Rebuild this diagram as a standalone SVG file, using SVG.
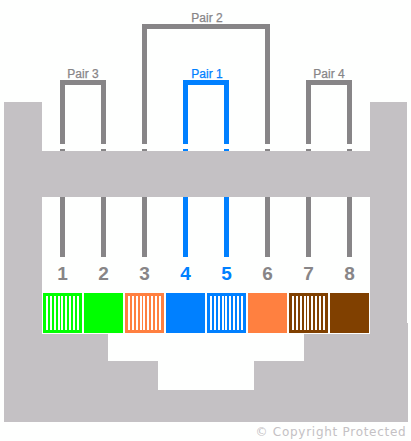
<svg xmlns="http://www.w3.org/2000/svg" width="411" height="441" viewBox="0 0 411 441">
<style>
.w{fill:none;stroke-width:5}
.g{stroke:#878587}.b{stroke:#0080ff}
text{font-family:"Liberation Sans",Arial,sans-serif;text-anchor:middle}
.lp{font-size:12px;fill:#878587;stroke:#878587;stroke-width:.25}
.lb{fill:#0080ff;stroke:#0080ff}
.n{font-size:19px;font-weight:700;fill:#878587}
.nb{fill:#0080ff}
.s{stroke:#fff;stroke-width:2;fill:none}
</style>
<defs>
<path id="stripes" class="s" d="M4 3V37M8 3V37M12 3V37M16 3V37M19 3V37M23 3V37M27 3V37M31 3V37M35 3V37"/>
</defs>
<rect width="411" height="441" fill="#fefffe"/>
<g id="connectors">
<path class="w g" d="M62.500 144V82.500H103.500V144M62.500 149V152M103.500 149V152M62.500 197V257M103.500 197V257"/>
<path class="w g" d="M144.500 144V26.500H267.500V144M144.500 149V152M267.500 149V152M144.500 197V257M267.500 197V257"/>
<path class="w b" d="M185.500 144V82.500H226.500V144M185.500 149V152M226.500 149V152M185.500 197V257M226.500 197V257"/>
<path class="w g" d="M308.500 144V82.500H349.500V144M308.500 149V152M349.500 149V152M308.500 197V257M349.500 197V257"/>
</g>
<g id="jack"><path fill="#c4c1c4" d="M4 102H42V151H370V102H407V323H408V422H4ZM42 197V334H108V361H158V390H254V361H304V334H370V197Z"/></g>
<g id="pair-labels">
<text class="lp" x="207" y="22">Pair 2</text>
<text class="lp" x="83" y="78">Pair 3</text>
<text class="lp lb" x="207" y="78">Pair 1</text>
<text class="lp" x="329" y="78">Pair 4</text>
</g>
<g id="pin1"><text class="n" x="62.500" y="280">1</text><rect x="43" y="293" width="39" height="40" fill="#00ff00"/><use href="#stripes" x="43" y="293"/></g>
<g id="pin2"><text class="n" x="103.500" y="280">2</text><rect x="84" y="293" width="39" height="40" fill="#00ff00"/></g>
<g id="pin3"><text class="n" x="144.500" y="280">3</text><rect x="125" y="293" width="39" height="40" fill="#ff8040"/><use href="#stripes" x="125" y="293"/></g>
<g id="pin4"><text class="n nb" x="185.500" y="280">4</text><rect x="166" y="293" width="39" height="40" fill="#0080ff"/></g>
<g id="pin5"><text class="n nb" x="226.500" y="280">5</text><rect x="207" y="293" width="39" height="40" fill="#0080ff"/><use href="#stripes" x="207" y="293"/></g>
<g id="pin6"><text class="n" x="267.500" y="280">6</text><rect x="248" y="293" width="39" height="40" fill="#ff8040"/></g>
<g id="pin7"><text class="n" x="308.500" y="280">7</text><rect x="289" y="293" width="39" height="40" fill="#804000"/><use href="#stripes" x="289" y="293"/></g>
<g id="pin8"><text class="n" x="349.500" y="280">8</text><rect x="330" y="293" width="39" height="40" fill="#804000"/></g>
<g id="copyright"><text x="331" y="436" style="font-size:12px;letter-spacing:.72px;fill:#c4c1c4;font-family:'DejaVu Sans',sans-serif">© Copyright Protected</text></g>
</svg>
